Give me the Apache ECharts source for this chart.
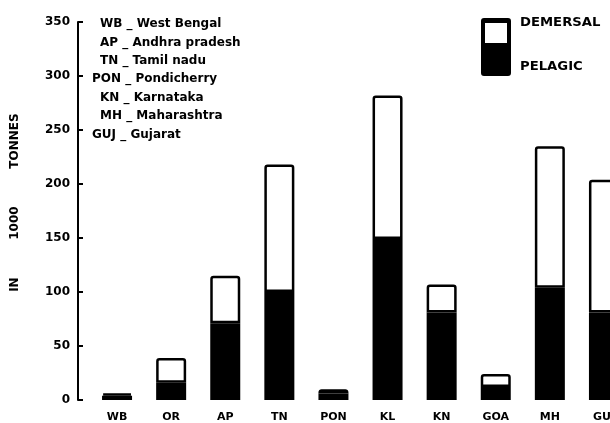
<!DOCTYPE html>
<html>
<head>
<meta charset="utf-8">
<script src="https://cdn.jsdelivr.net/npm/echarts@6/dist/echarts.min.js"></script>
<style>html,body{margin:0;padding:0;background:#fff}#c{width:610px;height:423px}</style>
</head>
<body>
<div id="c"></div>
<script>
var categories = ['WB', 'OR', 'AP', 'TN', 'PON', 'KL', 'KN', 'GOA', 'MH', 'GUJ'];
var pelagic = [4, 16, 71, 100, 6, 149, 81, 12, 104, 81];
var demersal = [2, 23, 44, 118, 4, 133, 26, 12, 131, 123];
var abbreviations = ['WB _ West Bengal', 'AP _ Andhra pradesh', 'TN _ Tamil nadu', 'PON _ Pondicherry', 'KN _ Karnataka', 'MH _ Maharashtra', 'GUJ _ Gujarat'];
var legendNames = ['DEMERSAL', 'PELAGIC'];

var FONT = '"DejaVu Sans", "Liberation Sans", Arial, sans-serif';
var chart = echarts.init(document.getElementById('c'));

var abbrGraphics = abbreviations.map(function (t, i) {
  var wide = t.indexOf('PON') === 0 || t.indexOf('GUJ') === 0;
  return {
    type: 'text', left: wide ? 92 : 100, top: 18 + i * 18.4,
    style: { text: t, fill: '#000', font: 'bold 12px ' + FONT }
  };
});

chart.setOption({
  animation: false,
  grid: { left: 90, width: 541, top: 22, bottom: 23, outerBoundsMode: 'none', containLabel: false },
  xAxis: {
    type: 'category', data: categories,
    axisLine: { show: false }, axisTick: { show: false },
    axisLabel: { color: '#000', fontWeight: 'bold', fontSize: 11, fontFamily: FONT, margin: 12 }
  },
  yAxis: {
    type: 'value', min: 0, max: 350, interval: 50, offset: 12,
    name: '    IN         1000         TONNES', nameLocation: 'middle', nameGap: 57, nameRotate: 90,
    nameTextStyle: { color: '#000', fontWeight: 'bold', fontSize: 12, fontFamily: FONT },
    axisLine: { show: true, lineStyle: { color: '#000', width: 2 } },
    axisTick: { show: true, inside: true, length: 5, lineStyle: { color: '#000', width: 2 } },
    axisLabel: { color: '#000', fontWeight: 'bold', fontSize: 12, fontFamily: FONT, margin: 8 },
    splitLine: { show: false }
  },
  series: [
    { name: 'PELAGIC', type: 'bar', stack: 'a', data: pelagic, barWidth: 30,
      itemStyle: { color: '#000', borderColor: '#000', borderWidth: 2 } },
    { name: 'DEMERSAL', type: 'bar', stack: 'a', data: demersal, barWidth: 30,
      itemStyle: { color: '#fff', borderColor: '#000', borderWidth: 2.5, borderRadius: [2, 2, 0, 0] } }
  ],
  graphic: abbrGraphics.concat([
    { type: 'rect', shape: { x: 482, y: 19, width: 28, height: 56, r: 2 },
      style: { fill: '#000', stroke: '#000', lineWidth: 2 } },
    { type: 'rect', shape: { x: 485, y: 23, width: 22, height: 20 },
      style: { fill: '#fff' } },
    { type: 'text', left: 520, top: 17, scaleX: 1.1,
      style: { text: legendNames[0], fill: '#000', font: 'bold 12px ' + FONT } },
    { type: 'text', left: 520, top: 61, scaleX: 1.1,
      style: { text: legendNames[1], fill: '#000', font: 'bold 12px ' + FONT } }
  ])
});
</script>
</body>
</html>
